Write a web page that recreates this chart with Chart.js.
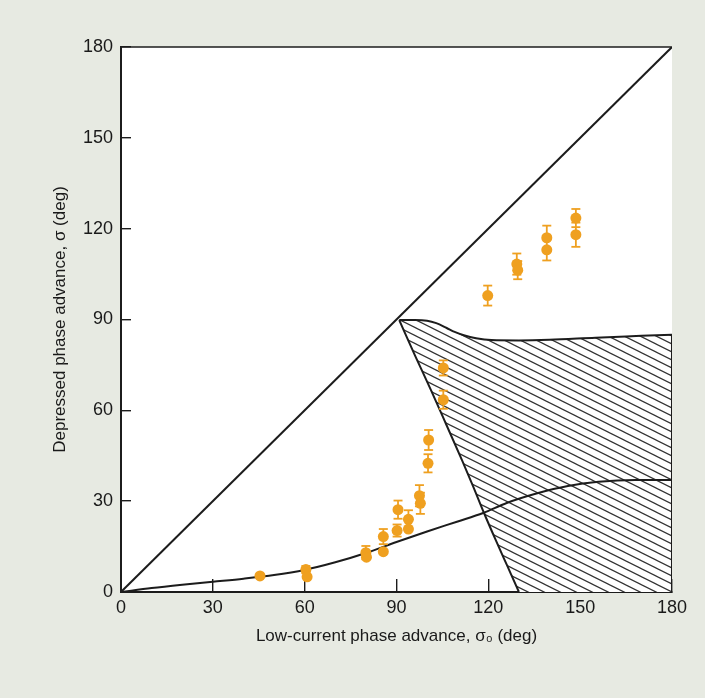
<!DOCTYPE html>
<html>
<head>
<meta charset="utf-8">
<script src="https://cdn.jsdelivr.net/npm/chart.js@4.4.1/dist/chart.umd.min.js"></script>
<style>
  html, body { margin: 0; padding: 0; background: #e7eae2; }
  #wrap { width: 705px; height: 698px; }
</style>
</head>
<body>
<div id="wrap"><canvas id="chart" width="705" height="698"></canvas></div>
<script>
// tick labels
const xTicks = [0, 30, 60, 90, 120, 150, 180];
const yTicks = [0, 30, 60, 90, 120, 150, 180];

// measured points (sigma0, sigma) with vertical error half-widths
const ptX = [45.4, 60.4, 60.8, 80, 80.2, 85.7, 85.7, 90.2, 90.5, 93.9, 93.9, 97.5, 97.8, 100.3, 100.5, 105.3, 105.3, 119.8, 129.3, 129.6, 139.1, 139.1, 148.6, 148.6];
const ptY = [5.3, 7.4, 5.0, 13, 11.5, 13.3, 18.3, 20.3, 27.2, 24, 20.8, 31.8, 29.3, 42.5, 50.2, 74, 63.5, 97.9, 108.3, 106.3, 117, 113, 123.5, 118];
const ptErr = [0, 1.2, 0, 2.2, 0, 0, 2.5, 2, 3, 3, 0, 3.5, 3.5, 3, 3.3, 2.5, 3, 3.3, 3.5, 3, 4, 3.5, 3, 4];

// theory curves
const diagonal = [[0, 0], [180, 180]];
const lowerCurve = [[0, 0], [10, 1.3], [20, 2.4], [30, 3.4], [40, 4.4], [50, 5.6], [60, 7.3], [70, 9.8], [80, 12.9], [90, 16.5], [100, 20], [110, 23.3], [118.3, 26.1], [126, 29.4], [136, 32.6], [146, 35], [156, 36.4], [168, 37], [180, 37]];
const upperEdge = [[90.9, 89.8], [96, 89.8], [100, 89.6], [103, 88.8], [106.4, 87.2], [109, 85.9], [112, 84.8], [116, 83.8], [121, 83.2], [130, 83.1], [140, 83.3], [155, 84], [170, 84.6], [180, 85]];
const rightEdge = [[180, 85], [180, 0]];
const leftEdge = [[90.9, 89.8], [96.1, 78], [101.3, 66.6], [106.4, 55], [111.5, 43.3], [115, 35], [118.8, 25.6], [122.4, 17.2], [126.2, 8.6], [130, 0]];

const xy = a => a.map(p => ({ x: p[0], y: p[1] }));
const ink = '#1c1c1c';
const orange = '#efa020';
const font = "'Liberation Sans', 'DejaVu Sans', sans-serif";

// hatch pattern
function hatch() {
  const c = document.createElement('canvas');
  c.width = 16; c.height = 8;
  const g = c.getContext('2d');
  g.fillStyle = '#fff';
  g.fillRect(0, 0, 16, 8);
  g.strokeStyle = '#333';
  g.lineWidth = 1.25;
  for (let k = -1; k <= 1; k++) {
    g.beginPath();
    g.moveTo(-2, -1 + k * 8);
    g.lineTo(18, 9 + k * 8);
    g.stroke();
  }
  return g.createPattern(c, 'repeat');
}

// closed region: upper edge, right side, bottom, left edge back up
const region = upperEdge.concat([[180, 0]], leftEdge.slice().reverse());

// error bar segments separated by gaps
const bars = [];
ptX.forEach((x, i) => {
  if (!ptErr[i]) return;
  bars.push({ x, y: ptY[i] - ptErr[i] }, { x, y: ptY[i] + ptErr[i] }, { x, y: null });
});

const frame = {
  id: 'frame',
  beforeDraw(chart) {
    const { ctx, chartArea: a } = chart;
    ctx.save();
    ctx.fillStyle = '#e7eae2';
    ctx.fillRect(0, 0, chart.width, chart.height);
    ctx.fillStyle = '#fff';
    ctx.fillRect(a.left, a.top, a.right - a.left, a.bottom - a.top);
    ctx.restore();
  },
  afterDraw(chart) {
    const { ctx, chartArea: a } = chart;
    ctx.save();
    ctx.strokeStyle = ink;
    ctx.lineWidth = 1.5;
    ctx.beginPath();
    ctx.moveTo(a.left, a.top);
    ctx.lineTo(a.right, a.top);
    ctx.stroke();
    ctx.restore();
  }
};

const lineSet = (data, order) => ({
  data: xy(data), showLine: true, borderColor: ink, borderWidth: 2,
  pointRadius: 0, cubicInterpolationMode: 'monotone', fill: false, order
});

new Chart(document.getElementById('chart'), {
  type: 'scatter',
  data: {
    datasets: [
      { data: ptX.map((x, i) => ({ x, y: ptY[i] })), backgroundColor: orange, borderWidth: 0, pointRadius: 5.5, order: 0 },
      { data: bars, showLine: true, spanGaps: false, borderColor: orange, borderWidth: 1.8,
        pointStyle: 'line', pointRadius: 4.5, pointBorderColor: orange, pointBorderWidth: 1.8, order: 1 },
      lineSet(diagonal, 2),
      lineSet(lowerCurve, 2),
      lineSet(upperEdge, 2),
      lineSet(rightEdge, 2),
      lineSet(leftEdge, 2),
      { data: xy(region), showLine: true, borderWidth: 0, pointRadius: 0, tension: 0,
        fill: 'shape', backgroundColor: hatch(), order: 3 }
    ]
  },
  options: {
    responsive: false,
    animation: false,
    devicePixelRatio: 1,
    layout: { padding: { top: 47, right: 33, left: 0, bottom: 0 } },
    plugins: { legend: { display: false }, tooltip: { enabled: false } },
    scales: {
      x: {
        type: 'linear', min: 0, max: 180,
        afterFit: s => { s.height = 106; },
        afterBuildTicks: s => { s.ticks = xTicks.map(v => ({ value: v })); },
        grid: { drawOnChartArea: false, drawTicks: true, tickLength: -13, color: ink, lineWidth: 1.4 },
        border: { display: true, color: ink, width: 2 },
        ticks: { color: '#1a1a1a', padding: 18, maxRotation: 0, font: { family: font, size: 18 } },
        title: { display: true, text: 'Low-current phase advance, σ₀ (deg)', color: '#1a1a1a',
                 padding: { top: 0, bottom: 51 }, font: { family: font, size: 17 } }
      },
      y: {
        type: 'linear', min: 0, max: 180,
        afterFit: s => { s.width = 121; },
        afterBuildTicks: s => { s.ticks = yTicks.map(v => ({ value: v })); },
        grid: { drawOnChartArea: false, drawTicks: true, tickLength: -10, color: ink, lineWidth: 1.4 },
        border: { display: true, color: ink, width: 2 },
        ticks: { color: '#1a1a1a', padding: 18, font: { family: font, size: 18 } },
        title: { display: true, text: 'Depressed phase advance, σ (deg)', color: '#1a1a1a',
                 padding: { top: 50, bottom: 0 }, font: { family: font, size: 17 } }
      }
    }
  },
  plugins: [frame]
});
</script>
</body>
</html>
